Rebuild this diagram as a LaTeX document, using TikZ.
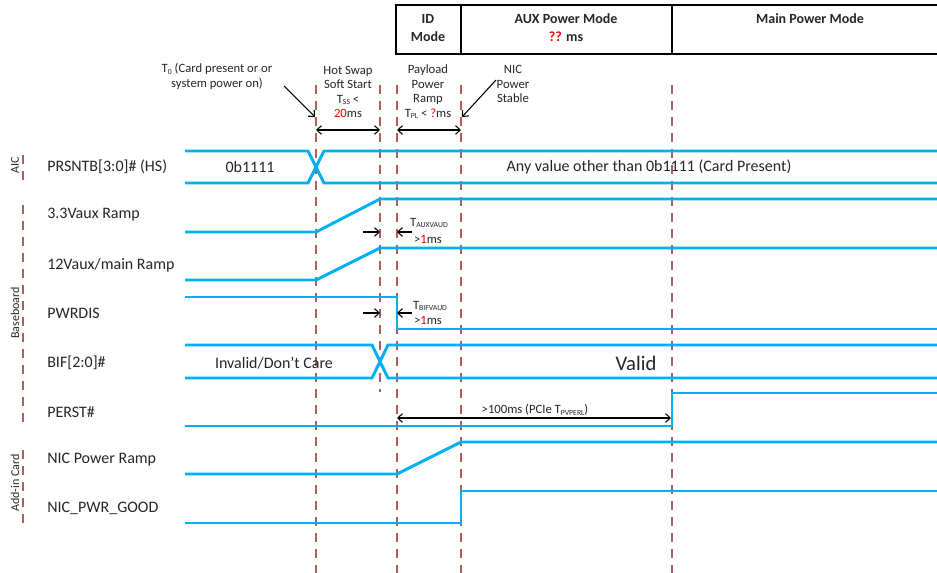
\documentclass[tikz,border=0pt]{standalone}
\usepackage{fontspec}
\setmainfont{Carlito}
\usetikzlibrary{arrows.meta}
\definecolor{wavecol}{RGB}{0,176,240}
\definecolor{guidecol}{RGB}{175,95,90}
\definecolor{txtcol}{RGB}{38,38,38}
\newcommand{\mysub}[1]{\raisebox{-0.25ex}{\fontsize{5.8}{6}\selectfont #1}}
\tikzset{
  waveline/.style={draw=wavecol, line width=2.2pt, line join=miter},
  guideline/.style={draw=guidecol, line width=1pt, dash pattern=on 7pt off 5pt},
  hdrline/.style={draw=black, line width=1.1pt},
  note/.style={font=\fontsize{9.5}{10.9}\selectfont, text=txtcol, align=center, inner sep=0pt},
  lab/.style={font=\fontsize{12}{14}\selectfont, text=txtcol, anchor=west, inner sep=0pt},
  val/.style={font=\fontsize{12}{14}\selectfont, text=txtcol, inner sep=0pt},
  grp/.style={font=\fontsize{9}{10}\selectfont, text=txtcol, rotate=90, inner sep=0pt},
  hdr/.style={font=\bfseries\fontsize{10.5}{13.5}\selectfont, text=txtcol, align=center, inner sep=0pt},
  arr/.style={draw=black, line width=0.8pt, -{Straight Barb[length=3.5pt,width=6.5pt]}},
  darr/.style={draw=black, line width=0.8pt, {Straight Barb[length=3.5pt,width=6.5pt]}-{Straight Barb[length=3.5pt,width=6.5pt]}}
}
\begin{document}
\begin{tikzpicture}[x=0.75pt,y=-0.75pt]
\useasboundingbox (0,0) rectangle (937,573);

% guide lines
\foreach \x in {316,397,461,672} \draw[guideline] (\x,85) -- (\x,573);
\draw[guideline] (380,85) -- (380,392);
\draw[guideline] (23,155) -- (23,183);
\draw[guideline] (23,205) -- (23,425);
\draw[guideline] (23,450) -- (23,523);

% header box
\draw[hdrline] (937,5) -- (396,5) -- (396,54) -- (937,54);
\draw[hdrline] (461,5) -- (461,54);
\draw[hdrline] (672,5) -- (672,54);
\node[hdr] (hid) at (428,28) {ID\\Mode};
\node[hdr] (haux) at (566,28) {AUX Power Mode\\\textcolor{red}{??} ms};
\node[hdr] (hmain) at (810,19) {Main Power Mode};

% top annotations
\node[note] (t0) at (217,76.5) {T\mysub{0} (Card present or or\\system power on)};
\node[note] (hs) at (348,92) {Hot Swap\\Soft Start\\T\mysub{SS} <\\\textcolor{red}{20}ms};
\node[note] (pl) at (428,92) {Payload\\Power\\Ramp\\T\mysub{PL} < \textcolor{red}{?}ms};
\node[note] (nic) at (513,84) {NIC\\Power\\Stable};
\coordinate (t0a) at (284,86); \coordinate (t0b) at (315,117);
\draw[arr] (t0a) -- (t0b);
\coordinate (nica) at (496,80); \coordinate (nicb) at (462,117);
\draw[arr] (nica) -- (nicb);
\coordinate (hsa) at (316,130); \coordinate (hsb) at (380,130);
\draw[darr] (hsa) -- (hsb);
\coordinate (pla) at (397,130); \coordinate (plb) at (461,130);
\draw[darr] (pla) -- (plb);

% group labels
\node[grp] (gaic) at (15,165) {AIC};
\node[grp] (gbase) at (15,313) {Baseboard};
\node[grp] (gadd) at (15,483) {Add-in Card};

% signal labels
\node[lab] (l1) at (47,167) {PRSNTB[3:0]\# (HS)};
\node[lab] (l2) at (47,215) {3.3Vaux Ramp};
\node[lab] (l3) at (47,265) {12Vaux/main Ramp};
\node[lab] (l4) at (47,313) {PWRDIS};
\node[lab] (l5) at (47,363) {BIF[2:0]\#};
\node[lab] (l6) at (47,412) {PERST\#};
\node[lab] (l7) at (47,460) {NIC Power Ramp};
\node[lab] (l8) at (47,508) {NIC\_PWR\_GOOD};

% waves
\draw[waveline] (185,151) -- (308,151) -- (324,183) -- (937,183);
\draw[waveline] (185,183) -- (308,183) -- (324,151) -- (937,151);
\node[val] (v1a) at (250,167) {0b1111};
\node[val] (v1b) at (649,167) {Any value other than 0b1111 (Card Present)};

\draw[waveline] (185,232) -- (316,232) -- (380,199) -- (937,199);
\draw[waveline] (185,280) -- (316,280) -- (380,248) -- (937,248);
\draw[waveline] (185,297) -- (397,297) -- (397,329) -- (937,329);

\draw[waveline] (185,345) -- (372,345) -- (388,378) -- (937,378);
\draw[waveline] (185,378) -- (372,378) -- (388,345) -- (937,345);
\node[val] (v5a) at (274,363) {Invalid/Don’t Care};
\node[val, font=\fontsize{15.5}{17}\selectfont] (v5b) at (636,363) {Valid};

\draw[waveline] (185,426) -- (672,426) -- (672,393) -- (937,393);
\draw[waveline] (185,474) -- (397,474) -- (461,442) -- (937,442);
\draw[waveline] (185,523) -- (461,523) -- (461,491) -- (937,491);

% timing arrows
\coordinate (a1a) at (363,232); \coordinate (a1b) at (380,232);
\coordinate (a1c) at (412,232); \coordinate (a1d) at (397,232);
\draw[arr] (a1a) -- (a1b);
\draw[arr] (a1c) -- (a1d);
\node[note] (taux) at (429,223) {T\mysub{AUXVAUD}};
\node[note] (taux2) at (428,239) {>\textcolor{red}{1}ms};

\coordinate (a2a) at (363,313); \coordinate (a2b) at (380,313);
\coordinate (a2c) at (412,313); \coordinate (a2d) at (397,313);
\draw[arr] (a2a) -- (a2b);
\draw[arr] (a2c) -- (a2d);
\node[note] (tbif) at (430,306) {T\mysub{BIFVAUD}};
\node[note] (tbif2) at (428,320) {>\textcolor{red}{1}ms};

\coordinate (pa) at (397,418); \coordinate (pb) at (671,418);
\draw[darr] (pa) -- (pb);
\node[note] (tpv) at (535,410) {>100ms (PCIe T\mysub{PVPERL})};
\end{tikzpicture}
\end{document}
